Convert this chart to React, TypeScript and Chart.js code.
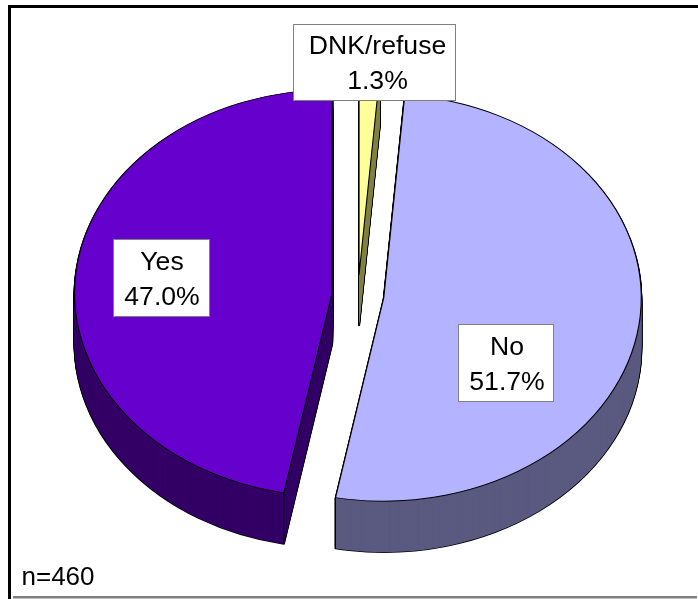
import React, { useEffect, useRef } from "react";
import { Chart, registerables } from "chart.js";

Chart.register(...registerables);

const categories = ["DNK/refuse", "No", "Yes"];
const percentValues = [1.3, 51.7, 47.0];
const sampleNote = "n=460";
const topColors = ["#FFFF99", "#B3B3FF", "#6600CC"];
const wallColors = ["#808040", "#5A5A80", "#330066"];

const TILT = 0.79;
const DEPTH = 51;
const EXPLODE = 26;
const FONT = '26.6px "Liberation Sans", Arial, sans-serif';
const NOTE_FONT = '26px "Liberation Sans", Arial, sans-serif';

// label box: left, top, right, bottom, centre x, first baseline, second baseline
const labelBoxes = [
  [293.5, 24.5, 455.5, 100.5, 377.5, 54, 88.5],
  [458.5, 324.5, 553.5, 401.5, 507, 355, 389.5],
  [113.5, 239.5, 209.5, 316.5, 162, 270, 304.5],
];

const pie3d = {
  id: "pie3d",
  beforeDraw(chart: any) {
    const { ctx } = chart;
    ctx.save();
    ctx.fillStyle = "#FFFFFF";
    ctx.fillRect(0, 0, chart.width, chart.height);
    ctx.fillStyle = "#000000";
    ctx.fillRect(8, 5, chart.width - 8, 3);
    ctx.fillRect(8, 5, 3, chart.height - 5);
    ctx.fillStyle = "#808080";
    ctx.fillRect(13, 596, chart.width - 14, 2.5);
    ctx.restore();
  },
  beforeDatasetDraw(chart: any) {
    const { ctx } = chart;
    const arcs = chart.getDatasetMeta(0).data;
    arcs.forEach((el: any, i: number) => {
      const mid = (el.startAngle + el.endAngle) / 2;
      const dx = Math.cos(mid) * EXPLODE;
      const dy = Math.sin(mid) * EXPLODE;
      const place = (drop: number) => {
        ctx.translate(dx, el.y + drop + dy * TILT);
        ctx.scale(1, TILT);
        ctx.translate(0, -el.y);
      };
      const paint = (drop: number, fill: string, border: string, width: number) => {
        const face = Object.create(el);
        face.options = {
          ...el.options,
          backgroundColor: fill,
          borderColor: border,
          borderWidth: width,
          offset: 0,
        };
        ctx.save();
        place(drop);
        face.draw(ctx);
        ctx.restore();
      };
      for (let d = DEPTH; d >= 1; d--) paint(d, "#000000", "#000000", 2);
      for (let d = DEPTH; d >= 1; d--) paint(d, wallColors[i], wallColors[i], 0);
      paint(0, topColors[i], "#000000", 1.1);
      // front corner between outer wall and radial wall
      [el.startAngle, el.endAngle].forEach((a: number) => {
        const sy = Math.sin(a);
        if (sy <= 0) return;
        const x = el.x + dx + Math.cos(a) * el.outerRadius;
        const y = el.y + dy * TILT + sy * el.outerRadius * TILT;
        ctx.save();
        ctx.strokeStyle = "#000000";
        ctx.lineWidth = 1;
        ctx.beginPath();
        ctx.moveTo(x, y);
        ctx.lineTo(x, y + DEPTH);
        ctx.stroke();
        ctx.restore();
      });
    });
    return false;
  },
  afterDatasetsDraw(chart: any) {
    const { ctx } = chart;
    ctx.save();
    ctx.font = FONT;
    categories.forEach((name, i) => {
      const [l, t, r, b, cx, y1, y2] = labelBoxes[i];
      ctx.fillStyle = "#FFFFFF";
      ctx.fillRect(l, t, r - l, b - t);
      ctx.strokeStyle = "#808080";
      ctx.lineWidth = 1;
      ctx.strokeRect(l, t, r - l, b - t);
      ctx.fillStyle = "#000000";
      ctx.textAlign = "center";
      ctx.textBaseline = "alphabetic";
      ctx.fillText(name, cx, y1);
      ctx.fillText(percentValues[i].toFixed(1) + "%", cx, y2);
    });
    ctx.textAlign = "left";
    ctx.fillStyle = "#000000";
    ctx.font = NOTE_FONT;
    ctx.fillText(sampleNote, 21.5, 585);
    ctx.restore();
  },
};

export default function App() {
  const ref = useRef<HTMLCanvasElement>(null);
  useEffect(() => {
    const chart = new Chart(ref.current as HTMLCanvasElement, {
      type: "pie",
      data: {
        labels: categories,
        datasets: [
          {
            data: percentValues,
            backgroundColor: topColors,
            borderColor: "#000000",
            borderWidth: 1,
            borderJoinStyle: "round",
            radius: 257.5,
          } as any,
        ],
      },
      options: {
        animation: false,
        responsive: false,
        layout: { padding: { left: 18, bottom: 9 } },
        plugins: { legend: { display: false }, tooltip: { enabled: false }, title: { display: false } },
      },
      plugins: [pie3d as any],
    });
    return () => chart.destroy();
  }, []);
  return (
    <div style={{ position: "fixed", left: 0, top: 0, width: 698, height: 599 }}>
      <canvas ref={ref} width={698} height={599} style={{ display: "block" }} />
    </div>
  );
}
